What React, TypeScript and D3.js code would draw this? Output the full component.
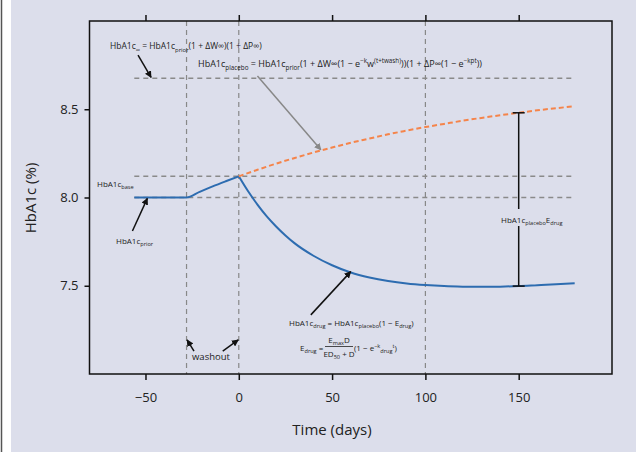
import React, { useEffect, useRef } from 'react';
import * as d3 from 'd3';

// time (days) and HbA1c (%)
const runInDays = [-56, -28, -21, -14, -7, 0];
const runInValues = [8.0, 8.0, 8.032, 8.063, 8.092, 8.12];

const placeboDays = [0, 10, 20, 30, 40, 50, 60, 70, 80, 90, 100, 110, 120, 130, 140, 150, 160, 170, 180];
const placeboValues = [8.12, 8.157, 8.192, 8.224, 8.255, 8.283, 8.31, 8.334, 8.358, 8.379, 8.399, 8.417, 8.435, 8.451, 8.466, 8.48, 8.494, 8.506, 8.517];

const drugDays = [0, 5, 10, 15, 20, 25, 30, 40, 50, 60, 70, 80, 90, 100, 110, 120, 130, 140, 150, 160, 170, 180];
const drugValues = [8.12, 8.035, 7.96, 7.893, 7.836, 7.785, 7.74, 7.67, 7.616, 7.575, 7.547, 7.527, 7.513, 7.504, 7.498, 7.495, 7.494, 7.495, 7.498, 7.503, 7.508, 7.514];

const refLevels = [8.676, 8.12, 8.0]; // HbA1c inf, base, prior
const refStart = -56;
const refEnd = 180;
const vLines = [-28, 0, 100];
const barDay = 150;

const xTicks = [-50, 0, 50, 100, 150];
const yTicks = [7.5, 8.0, 8.5];

const W = 636;
const H = 452;
const FONT = "'Open Sans', 'DejaVu Sans', sans-serif";

type Part = { t: string; s?: 'sub' | 'sup' };

const Rich = ({ x, y, parts, size = 8, anchor = 'start' }: { x: number; y: number; parts: Part[]; size?: number; anchor?: string }) => {
  let prev = 0;
  return (
    <text x={x} y={y} fontSize={size} textAnchor={anchor} fill="#222">
      {parts.map((p, i) => {
        const off = p.s === 'sub' ? size * 0.3 : p.s === 'sup' ? -size * 0.4 : 0;
        const dy = off - prev;
        prev = off;
        return (
          <tspan key={i} dy={dy} fontSize={p.s ? size * 0.7 : size}>
            {p.t}
          </tspan>
        );
      })}
    </text>
  );
};

const App = () => {
  const bottomRef = useRef<SVGGElement>(null);
  const topRef = useRef<SVGGElement>(null);
  const leftRef = useRef<SVGGElement>(null);

  const x = d3.scaleLinear().domain([-80, 200]).range([89.5, 612]);
  const y = d3.scaleLinear().domain([7, 9]).range([374, 21]);

  useEffect(() => {
    const style = (g: any) => {
      g.select('.domain').remove();
      g.selectAll('line').attr('stroke', '#111').attr('stroke-width', 1.5);
      g.selectAll('text').attr('font-family', FONT).attr('font-size', 13).attr('fill', '#222');
    };
    d3.select(bottomRef.current!)
      .call(d3.axisBottom(x).tickValues(xTicks).tickSize(6).tickPadding(13))
      .call(style);
    d3.select(topRef.current!)
      .call(d3.axisTop(x).tickValues(xTicks).tickSize(6).tickFormat(() => ''))
      .call(style);
    d3.select(leftRef.current!)
      .call(d3.axisLeft(y).tickValues(yTicks).tickSize(5).tickPadding(6).tickFormat(d3.format('.1f')))
      .call(style);
  }, []);

  const line = d3
    .line<[number, number]>()
    .x((d) => x(d[0]))
    .y((d) => y(d[1]))
    .curve(d3.curveMonotoneX);

  const runIn = runInDays.map((d, i) => [d, runInValues[i]] as [number, number]);
  const placebo = placeboDays.map((d, i) => [d, placeboValues[i]] as [number, number]);
  const drug = drugDays.map((d, i) => [d, drugValues[i]] as [number, number]);

  const barTop = placeboValues[placeboDays.indexOf(barDay)];
  const barBot = drugValues[drugDays.indexOf(barDay)];

  // annotation arrows, in data units: [x1, y1, x2, y2, colour]
  const arrows: [number, number, number, number, string][] = [
    [-54, 8.807, -47, 8.68, '#111'],
    [10, 8.688, 44, 8.27, '#888'],
    [-57, 7.81, -49, 7.995, '#111'],
    [38.6, 7.335, 60, 7.58, '#111'],
    [-24, 7.13, -27.7, 7.193, '#111'],
    [-8.6, 7.13, -0.3, 7.193, '#111'],
  ];

  return (
    <div style={{ position: 'absolute', left: 0, top: 0 }}>
      <svg width={W} height={H} fontFamily={FONT} style={{ display: 'block' }}>
        <defs>
          <marker id="headK" viewBox="0 0 10 10" refX="9" refY="5" markerWidth="7" markerHeight="7" markerUnits="userSpaceOnUse" orient="auto">
            <path d="M0,0 L10,5 L0,10 Z" fill="#111" />
          </marker>
          <marker id="headG" viewBox="0 0 10 10" refX="9" refY="5" markerWidth="7" markerHeight="7" markerUnits="userSpaceOnUse" orient="auto">
            <path d="M0,0 L10,5 L0,10 Z" fill="#888" />
          </marker>
        </defs>
        <rect x={0} y={0} width={W} height={H} fill="#fff" />
        <rect x={11} y={0} width={W - 11} height={H} fill="#dcdeeb" />
        <line x1={1.5} x2={1.5} y1={0} y2={H} stroke="#555" strokeWidth={1.5} />

        {vLines.map((d) => (
          <line key={d} x1={x(d)} x2={x(d)} y1={y(9)} y2={y(7)} stroke="#888" strokeWidth={1.2} strokeDasharray="5,4" />
        ))}
        {refLevels.map((v) => (
          <line key={v} x1={x(refStart)} x2={x(refEnd)} y1={y(v)} y2={y(v)} stroke="#8a8a8a" strokeWidth={1.5} strokeDasharray="5,4" />
        ))}

        <path d={line(runIn) ?? ''} fill="none" stroke="#2d6cb0" strokeWidth={2} />
        <path d={line(drug) ?? ''} fill="none" stroke="#2d6cb0" strokeWidth={2} />
        <path d={line(placebo) ?? ''} fill="none" stroke="#f5844a" strokeWidth={2} strokeDasharray="5,3" />

        {/* placebo minus drug bar, split around its label */}
        <line x1={x(barDay)} x2={x(barDay)} y1={y(barTop)} y2={209} stroke="#111" strokeWidth={1.5} />
        <line x1={x(barDay)} x2={x(barDay)} y1={226} y2={y(barBot)} stroke="#111" strokeWidth={1.5} />
        <line x1={x(barDay) - 6} x2={x(barDay) + 6} y1={y(barTop)} y2={y(barTop)} stroke="#111" strokeWidth={1.5} />
        <line x1={x(barDay) - 6} x2={x(barDay) + 6} y1={y(barBot)} y2={y(barBot)} stroke="#111" strokeWidth={1.5} />

        {arrows.map(([x1, y1, x2, y2, c], i) => (
          <line key={i} x1={x(x1)} y1={y(y1)} x2={x(x2)} y2={y(y2)} stroke={c} strokeWidth={1.5} markerEnd={c === '#888' ? 'url(#headG)' : 'url(#headK)'} />
        ))}

        <rect x={89.5} y={21} width={612 - 89.5} height={374 - 21} fill="none" stroke="#111" strokeWidth={1.5} />
        <g ref={bottomRef} transform="translate(0,374)" />
        <g ref={topRef} transform="translate(0,21)" />
        <g ref={leftRef} transform="translate(89.5,0)" />

        <Rich x={110} y={49} size={8.5} parts={[{ t: 'HbA1c' }, { t: '∞', s: 'sub' }, { t: ' = HbA1c' }, { t: 'prior', s: 'sub' }, { t: '(1 + ΔW∞)(1 + ΔP∞)' }]} />
        <Rich
          x={198}
          y={67}
          size={9}
          parts={[
            { t: 'HbA1c' }, { t: 'placebo', s: 'sub' }, { t: ' = HbA1c' }, { t: 'prior', s: 'sub' },
            { t: '(1 + ΔW∞(1 − e' }, { t: '−k', s: 'sup' }, { t: 'w' }, { t: '(t+twash)', s: 'sup' },
            { t: '))(1 + ΔP∞(1 − e' }, { t: '−kpt', s: 'sup' }, { t: '))' },
          ]}
        />
        <Rich x={97} y={187} parts={[{ t: 'HbA1c' }, { t: 'base', s: 'sub' }]} />
        <Rich x={116} y={244} parts={[{ t: 'HbA1c' }, { t: 'prior', s: 'sub' }]} />
        <Rich x={501} y={223} parts={[{ t: 'HbA1c' }, { t: 'placebo', s: 'sub' }, { t: 'E' }, { t: 'drug', s: 'sub' }]} />
        <Rich x={289} y={326} parts={[{ t: 'HbA1c' }, { t: 'drug', s: 'sub' }, { t: ' = HbA1c' }, { t: 'placebo', s: 'sub' }, { t: '(1 − E' }, { t: 'drug', s: 'sub' }, { t: ')' }]} />
        <Rich x={300} y={351} parts={[{ t: 'E' }, { t: 'drug', s: 'sub' }, { t: ' =' }]} />
        <Rich x={339} y={343} anchor="middle" parts={[{ t: 'E' }, { t: 'max', s: 'sub' }, { t: 'D' }]} />
        <line x1={325} x2={353} y1={346.5} y2={346.5} stroke="#222" strokeWidth={0.8} />
        <Rich x={339} y={357} anchor="middle" parts={[{ t: 'ED' }, { t: '50', s: 'sub' }, { t: ' + D' }]} />
        <Rich x={354} y={351} parts={[{ t: '(1 − e' }, { t: '−k', s: 'sup' }, { t: 'drug', s: 'sub' }, { t: 't', s: 'sup' }, { t: ')' }]} />
        <text x={192} y={360} fontSize={9.5} fill="#222">washout</text>

        <text transform="translate(36,198) rotate(-90)" textAnchor="middle" fontSize={15} fill="#222">HbA1c (%)</text>
        <text x={332} y={435} textAnchor="middle" fontSize={15} fill="#222">Time (days)</text>
      </svg>
    </div>
  );
};

export default App;
